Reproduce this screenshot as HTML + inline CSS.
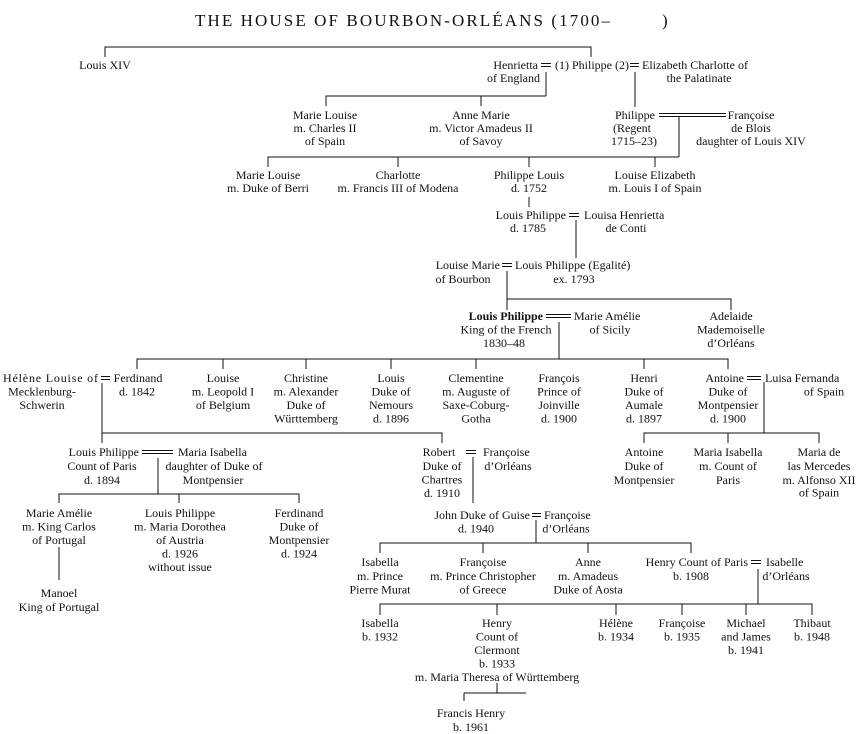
<!DOCTYPE html>
<html><head><meta charset="utf-8"><style>
html,body{margin:0;padding:0;background:#fff;}
svg{display:block;}
text{font-family:"Liberation Serif",serif;font-size:12px;fill:#111;}
.m{text-anchor:middle}.e{text-anchor:end}
.t{font-size:17px;}
path,line{stroke:#111;stroke-width:1;fill:none;}
</style></head><body>
<svg width="860" height="734" viewBox="0 0 860 734" xmlns="http://www.w3.org/2000/svg">
<text class="t" x="195" y="26" textLength="415" lengthAdjust="spacing">THE HOUSE OF BOURBON-ORLÉANS (1700–</text>
<text class="t" x="662" y="26">)</text>

<path d="M105,57V47H591V57 M546,72V96 M326,106V96H546 M481,96V106 M635,72V107
M679,117V157 M268,167V157H679 M398,157V167 M529,157V167 M655,157V167
M529,197V207 M576,220V258 M507,271V310 M507,299H731V310
M559,322V359 M137,369V359H728V369 M223,359V369 M306,359V369 M391,359V369 M476,359V369 M644,359V369
M102,383V443 M102,433H442V443 M764,382V433 M644,443V433H819V443 M728,433V443
M158,458V494 M59,503V494H299V503 M179,494V503 M473,457V503 M59,547V580
M536,520V543 M380,553V543H691V553 M483,543V553 M588,543V553
M758,569V604 M380,615V604H812V615 M497,604V615 M616,604V615 M682,604V615 M746,604V615
M497,683V693 M464,693H526 M464,693V701
M541,63.5H551 M541,66.5H551 M630,63.5H639 M630,66.5H639
M659,113.5H726 M659,116.5H726
M569,213.5H579 M569,216.5H579 M502,263.5H512 M502,266.5H512
M546,314.5H571 M546,317.5H571
M101,376.5H110 M101,379.5H110 M747,376.5H761 M747,379.5H761
M142,450.5H173 M142,453.5H173 M466,450.5H476 M466,453.5H476
M532,513.5H541 M532,516.5H541 M751,560.5H761 M751,563.5H761"/>

<text class="m" x="105" y="69">Louis XIV</text>
<text class="e" x="538" y="69">Henrietta</text>
<text class="e" x="540" y="82">of England</text>
<text x="555" y="69">(1) Philippe (2)</text>
<text x="642" y="69">Elizabeth Charlotte of</text>
<text class="m" x="699" y="82">the Palatinate</text>

<text class="m" y="119"><tspan x="325">Marie Louise</tspan><tspan x="325" dy="13">m. Charles II</tspan><tspan x="325" dy="13">of Spain</tspan></text>
<text class="m" y="119"><tspan x="481">Anne Marie</tspan><tspan x="481" dy="13">m. Victor Amadeus II</tspan><tspan x="481" dy="13">of Savoy</tspan></text>
<text class="m" x="635" y="119">Philippe</text>
<text x="613" y="132">(Regent</text>
<text x="611" y="145">1715–23)</text>
<text class="m" y="119"><tspan x="751">Françoise</tspan><tspan x="751" dy="13">de Blois</tspan><tspan x="751" dy="13">daughter of Louis XIV</tspan></text>

<text class="m" y="179"><tspan x="268">Marie Louise</tspan><tspan x="268" dy="13">m. Duke of Berri</tspan></text>
<text class="m" y="179"><tspan x="398">Charlotte</tspan><tspan x="398" dy="13">m. Francis III of Modena</tspan></text>
<text class="m" y="179"><tspan x="529">Philippe Louis</tspan><tspan x="529" dy="13">d. 1752</tspan></text>
<text class="m" y="179"><tspan x="655">Louise Elizabeth</tspan><tspan x="655" dy="13">m. Louis I of Spain</tspan></text>

<text class="e" x="566" y="219">Louis Philippe</text>
<text x="584" y="219">Louisa Henrietta</text>
<text class="m" x="528" y="232">d. 1785</text>
<text class="m" x="626" y="232">de Conti</text>

<text class="e" x="500" y="269">Louise Marie</text>
<text x="515" y="269">Louis Philippe (Egalité)</text>
<text class="m" x="463" y="283">of Bourbon</text>
<text class="m" x="574" y="283">ex. 1793</text>

<text class="e" x="543" y="320" font-weight="bold">Louis Philippe</text>
<text x="574" y="320">Marie Amélie</text>
<text class="m" x="506" y="333.5">King of the French</text>
<text class="m" x="504" y="347">1830–48</text>
<text class="m" x="610" y="333.5">of Sicily</text>
<text class="m" y="320"><tspan x="731">Adelaide</tspan><tspan x="731" dy="13.5">Mademoiselle</tspan><tspan x="731" dy="13.5">d’Orléans</tspan></text>

<text x="3" y="382" textLength="95" lengthAdjust="spacing">Hélène Louise of</text>
<text class="m" x="42" y="395.5">Mecklenburg-</text>
<text class="m" x="42" y="409">Schwerin</text>
<text class="m" y="382"><tspan x="138">Ferdinand</tspan><tspan x="137" dy="13.5">d. 1842</tspan></text>
<text class="m" y="382"><tspan x="223">Louise</tspan><tspan x="223" dy="13.5">m. Leopold I</tspan><tspan x="223" dy="13.5">of Belgium</tspan></text>
<text class="m" y="382"><tspan x="306">Christine</tspan><tspan x="306" dy="13.5">m. Alexander</tspan><tspan x="306" dy="13.5">Duke of</tspan><tspan x="306" dy="13.5">Württemberg</tspan></text>
<text class="m" y="382"><tspan x="391">Louis</tspan><tspan x="391" dy="13.5">Duke of</tspan><tspan x="391" dy="13.5">Nemours</tspan><tspan x="391" dy="13.5">d. 1896</tspan></text>
<text class="m" y="382"><tspan x="476">Clementine</tspan><tspan x="476" dy="13.5">m. Auguste of</tspan><tspan x="476" dy="13.5">Saxe-Coburg-</tspan><tspan x="476" dy="13.5">Gotha</tspan></text>
<text class="m" y="382"><tspan x="559">François</tspan><tspan x="559" dy="13.5">Prince of</tspan><tspan x="559" dy="13.5">Joinville</tspan><tspan x="559" dy="13.5">d. 1900</tspan></text>
<text class="m" y="382"><tspan x="644">Henri</tspan><tspan x="644" dy="13.5">Duke of</tspan><tspan x="644" dy="13.5">Aumale</tspan><tspan x="644" dy="13.5">d. 1897</tspan></text>
<text class="e" x="744" y="382">Antoine</text>
<text class="m" y="395.5"><tspan x="728">Duke of</tspan><tspan x="728" dy="13.5">Montpensier</tspan><tspan x="728" dy="13.5">d. 1900</tspan></text>
<text x="765" y="382">Luisa Fernanda</text>
<text class="m" x="824" y="395.5">of Spain</text>

<text class="e" x="139" y="456">Louis Philippe</text>
<text x="178" y="456">Maria Isabella</text>
<text class="m" y="470"><tspan x="102">Count of Paris</tspan><tspan x="102" dy="14">d. 1894</tspan></text>
<text class="m" y="470"><tspan x="214">daughter of Duke of</tspan><tspan x="213" dy="14">Montpensier</tspan></text>
<text class="m" x="439" y="456">Robert</text>
<text class="m" y="470"><tspan x="442">Duke of</tspan><tspan x="442" dy="13.5">Chartres</tspan><tspan x="442" dy="13.5">d. 1910</tspan></text>
<text x="483" y="456">Françoise</text>
<text class="m" x="508" y="470">d’Orléans</text>
<text class="m" y="456"><tspan x="644">Antoine</tspan><tspan x="644" dy="14">Duke of</tspan><tspan x="644" dy="14">Montpensier</tspan></text>
<text class="m" y="456"><tspan x="728">Maria Isabella</tspan><tspan x="728" dy="14">m. Count of</tspan><tspan x="728" dy="14">Paris</tspan></text>
<text class="m" y="456"><tspan x="819">Maria de</tspan><tspan x="819" dy="14">las Mercedes</tspan><tspan x="819" dy="14">m. Alfonso XII</tspan><tspan x="819" dy="12.5">of Spain</tspan></text>

<text class="m" y="517"><tspan x="59">Marie Amélie</tspan><tspan x="59" dy="13.5">m. King Carlos</tspan><tspan x="59" dy="13.5">of Portugal</tspan></text>
<text class="m" y="517"><tspan x="180">Louis Philippe</tspan><tspan x="180" dy="13.5">m. Maria Dorothea</tspan><tspan x="180" dy="13.5">of Austria</tspan><tspan x="180" dy="13.5">d. 1926</tspan><tspan x="180" dy="13.5">without issue</tspan></text>
<text class="m" y="517"><tspan x="299">Ferdinand</tspan><tspan x="299" dy="13.5">Duke of</tspan><tspan x="299" dy="13.5">Montpensier</tspan><tspan x="299" dy="13.5">d. 1924</tspan></text>
<text class="m" y="597"><tspan x="59">Manoel</tspan><tspan x="59" dy="14">King of Portugal</tspan></text>

<text class="e" x="530" y="519">John Duke of Guise</text>
<text x="544" y="519">Françoise</text>
<text class="m" x="476" y="532.5">d. 1940</text>
<text class="m" x="566" y="532.5">d’Orléans</text>

<text class="m" y="566"><tspan x="380">Isabella</tspan><tspan x="380" dy="13.8">m. Prince</tspan><tspan x="380" dy="13.8">Pierre Murat</tspan></text>
<text class="m" y="566"><tspan x="483">Françoise</tspan><tspan x="483" dy="13.8">m. Prince Christopher</tspan><tspan x="483" dy="13.8">of Greece</tspan></text>
<text class="m" y="566"><tspan x="588">Anne</tspan><tspan x="588" dy="13.8">m. Amadeus</tspan><tspan x="588" dy="13.8">Duke of Aosta</tspan></text>
<text class="e" x="748" y="566">Henry Count of Paris</text>
<text x="766" y="566">Isabelle</text>
<text class="m" x="691" y="579.8">b. 1908</text>
<text class="m" x="786" y="579.8">d’Orléans</text>

<text class="m" y="627"><tspan x="380">Isabella</tspan><tspan x="380" dy="13.5">b. 1932</tspan></text>
<text class="m" y="627"><tspan x="497">Henry</tspan><tspan x="497" dy="13.5">Count of</tspan><tspan x="497" dy="13.5">Clermont</tspan><tspan x="497" dy="13.5">b. 1933</tspan><tspan x="497" dy="13.5">m. Maria Theresa of Württemberg</tspan></text>
<text class="m" y="627"><tspan x="616">Hélène</tspan><tspan x="616" dy="13.5">b. 1934</tspan></text>
<text class="m" y="627"><tspan x="682">Françoise</tspan><tspan x="682" dy="13.5">b. 1935</tspan></text>
<text class="m" y="627"><tspan x="746">Michael</tspan><tspan x="746" dy="13.5">and James</tspan><tspan x="746" dy="13.5">b. 1941</tspan></text>
<text class="m" y="627"><tspan x="812">Thibaut</tspan><tspan x="812" dy="13.5">b. 1948</tspan></text>

<text class="m" y="717"><tspan x="471">Francis Henry</tspan><tspan x="471" dy="14">b. 1961</tspan></text>
</svg>
</body></html>
